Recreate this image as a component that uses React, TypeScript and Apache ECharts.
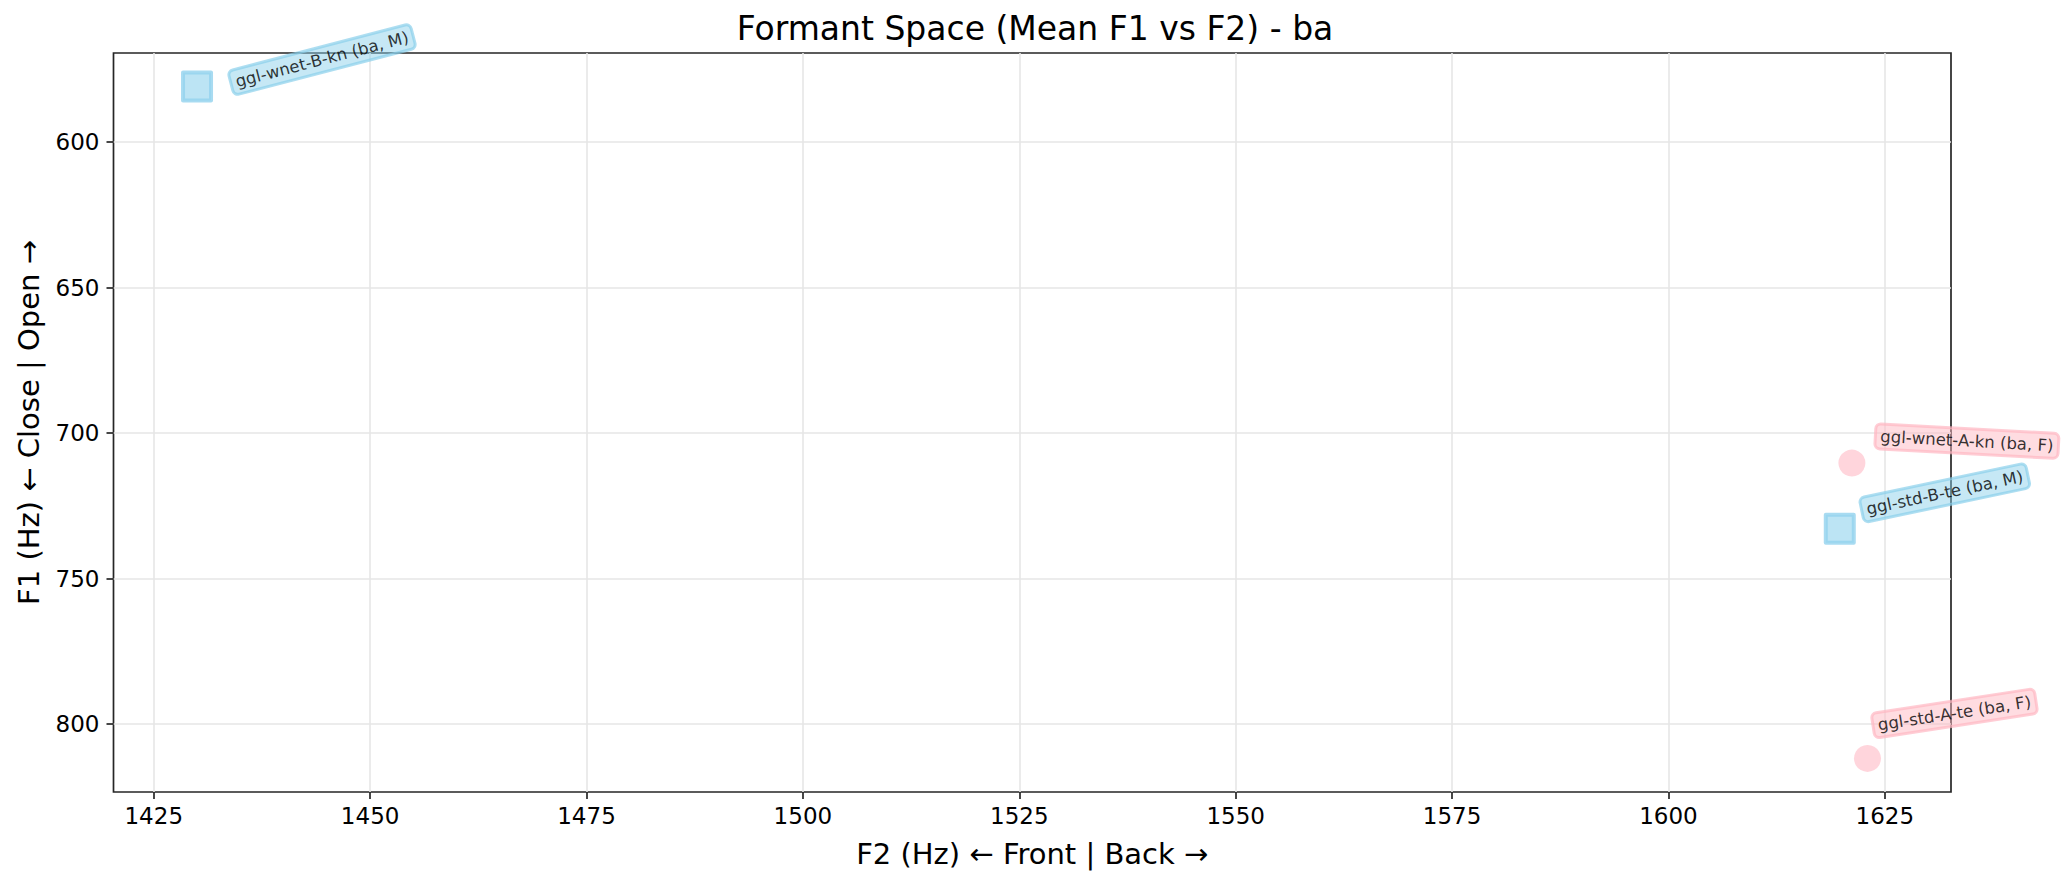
import React, { useEffect, useRef } from 'react';
import * as echarts from 'echarts';

// speaker mean formants for the syllable "ba"
const syllable = 'ba';
const speakers = ['ggl-wnet-B-kn', 'ggl-wnet-A-kn', 'ggl-std-B-te', 'ggl-std-A-te'];
const genders = ['M', 'F', 'M', 'F'];
const f2Means = [1430, 1621.2, 1619.8, 1623];
const f1Means = [580.9, 710.3, 732.9, 811.8];

const f2Ticks = [1425, 1450, 1475, 1500, 1525, 1550, 1575, 1600, 1625];
const f1Ticks = [600, 650, 700, 750, 800];

// annotation placement (label centre offset from the point, px) and tilt (deg)
const labelPlacement = [
  { dx: 125, dy: -27, rotate: 14.6 },
  { dx: 115, dy: -22, rotate: -3.1 },
  { dx: 105, dy: -36, rotate: 11.9 },
  { dx: 87, dy: -45, rotate: 8.7 },
];

const FONT = 'DejaVu Sans';

const padExtent = (vals: number[]) => {
  const lo = Math.min(...vals);
  const hi = Math.max(...vals);
  const m = (hi - lo) * 0.05;
  return [lo - m, hi + m];
};

const App: React.FC = () => {
  const chartref = useRef<HTMLDivElement>(null);
  useEffect(() => {
    document.body.style.margin = '0';
    const myChart = echarts.init(chartref.current as HTMLDivElement, undefined, {
      renderer: 'svg',
    });

    const [xMin, xMax] = padExtent(f2Means);
    const [yMin, yMax] = padExtent(f1Means);

    const maleSize = 28;
    const maleBorder = 4;
    const femaleSize = 27;

    const buildPoints = (g: string, half: number, fill: string, edge: string) =>
      speakers
        .map((name, i) => ({ name, i }))
        .filter((d) => genders[d.i] === g)
        .map(({ name, i }) => ({
          value: [f2Means[i], f1Means[i]],
          name,
          label: {
            show: true,
            formatter: `${name} (${syllable}, ${genders[i]})`,
            position: [half + labelPlacement[i].dx, half + labelPlacement[i].dy],
            rotate: labelPlacement[i].rotate,
            align: 'center',
            verticalAlign: 'middle',
            fontFamily: FONT,
            fontSize: 16.5,
            lineHeight: 19,
            color: '#000',
            backgroundColor: fill,
            borderColor: edge,
            borderWidth: 1.5,
            borderRadius: 5,
            padding: [3, 5, 3, 5],
          },
        }));

    const plain = (v: number) => String(v);

    const option: echarts.EChartsOption = {
      animation: false,
      backgroundColor: '#fff',
      title: {
        text: `Formant Space (Mean F1 vs F2) - ${syllable}`,
        left: 'center',
        top: 7,
        padding: [5, 11, 5, 5],
        textStyle: {
          fontFamily: FONT,
          fontSize: 33,
          fontWeight: 'normal',
          color: '#000',
        },
      },
      grid: {
        left: 113.5,
        right: 119,
        top: 53,
        bottom: 91,
        show: true,
        borderColor: '#262626',
        borderWidth: 1.7,
        backgroundColor: 'transparent',
      },
      xAxis: {
        type: 'value',
        min: xMin,
        max: xMax,
        name: 'F2 (Hz) ← Front | Back →',
        nameLocation: 'middle',
        nameGap: 47,
        nameTextStyle: { fontFamily: FONT, fontSize: 29, color: '#000' },
        axisLine: { show: false },
        axisTick: {
          show: true,
          length: 7,
          lineStyle: { color: '#262626', width: 1.7 },
          customValues: f2Ticks,
        },
        axisLabel: {
          fontFamily: FONT,
          fontSize: 23,
          color: '#000',
          margin: 12,
          formatter: plain,
          customValues: f2Ticks,
        },
        splitLine: { show: true, lineStyle: { color: '#e6e6e6', width: 1.6 } },
      },
      yAxis: {
        type: 'value',
        inverse: true,
        min: yMin,
        max: yMax,
        name: 'F1 (Hz) ← Close | Open →',
        nameLocation: 'middle',
        nameGap: 70,
        nameTextStyle: { fontFamily: FONT, fontSize: 29, color: '#000' },
        axisLine: { show: false },
        axisTick: {
          show: true,
          length: 7,
          lineStyle: { color: '#262626', width: 1.7 },
          customValues: f1Ticks,
        },
        axisLabel: {
          fontFamily: FONT,
          fontSize: 23,
          color: '#000',
          margin: 14,
          formatter: plain,
          customValues: f1Ticks,
        },
        splitLine: { show: true, lineStyle: { color: '#e6e6e6', width: 1.6 } },
      },
      series: [
        {
          name: 'M',
          type: 'scatter',
          symbol: 'rect',
          symbolSize: maleSize,
          itemStyle: {
            color: '#abddf1',
            borderColor: '#92d2ed',
            borderWidth: maleBorder,
            borderJoin: 'round',
          },
          data: buildPoints(
            'M',
            (maleSize + maleBorder) / 2,
            'rgba(135,206,235,0.6)',
            'rgba(135,206,235,0.85)'
          ),
        },
        {
          name: 'F',
          type: 'scatter',
          symbol: 'circle',
          symbolSize: femaleSize,
          itemStyle: { color: '#ffcad3' },
          data: buildPoints(
            'F',
            femaleSize / 2,
            'rgba(255,182,193,0.6)',
            'rgba(255,182,193,0.85)'
          ),
        },
      ],
    } as echarts.EChartsOption;
    myChart.setOption(option);

    return () => {
      myChart.dispose();
    };
  }, []);

  return <div ref={chartref} style={{ width: 2070, height: 883 }} />;
};

export default App;
